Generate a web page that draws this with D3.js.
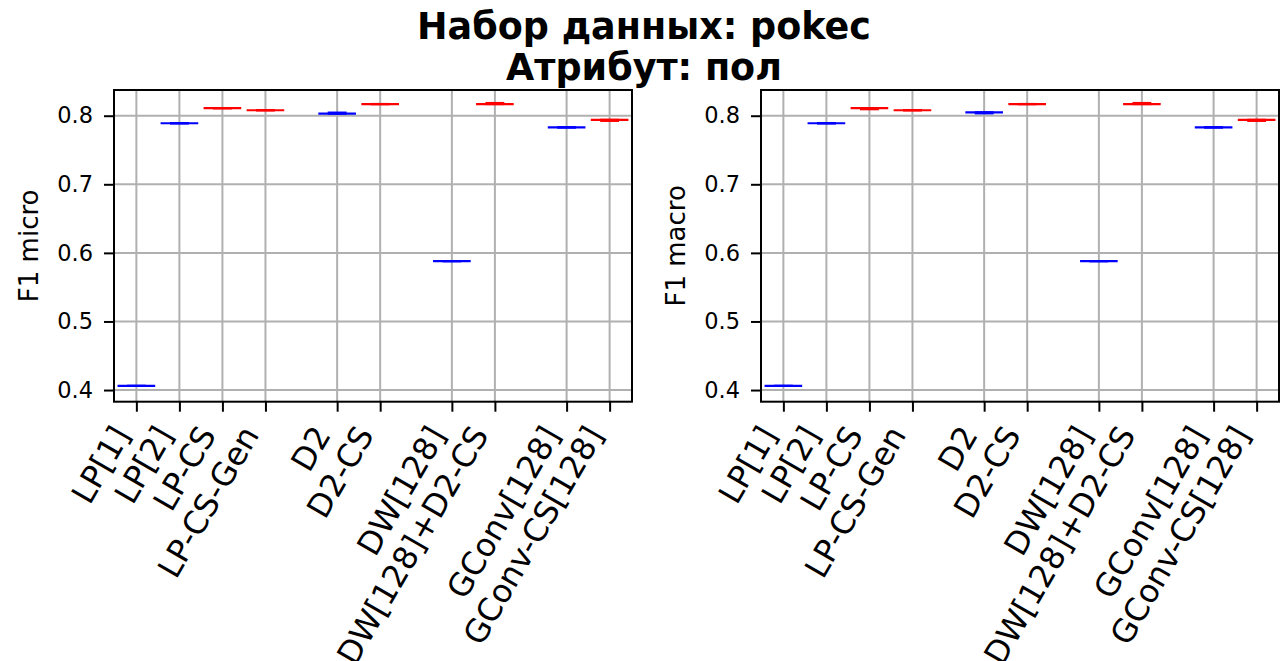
<!DOCTYPE html>
<html>
<head>
<meta charset="utf-8">
<script src="https://cdn.jsdelivr.net/npm/d3@7/dist/d3.min.js"></script>
<style>
  html, body { margin: 0; padding: 0; background: #fff; }
  svg { display: block; font-family: "DejaVu Sans", sans-serif; }
</style>
</head>
<body>
<svg id="fig" width="1288" height="661"></svg>
<script>
// Methods, in plotting order; group index controls the wider gaps between families
const categories = ["LP[1]", "LP[2]", "LP-CS", "LP-CS-Gen", "D2", "D2-CS",
                    "DW[128]", "DW[128]+D2-CS", "GConv[128]", "GConv-CS[128]"];
const groups = [0, 0, 0, 0, 1, 1, 2, 2, 3, 3];

// F1 micro: medians and whisker extents over runs
const microMedian = [0.406, 0.789, 0.811, 0.808, 0.803, 0.817, 0.588, 0.817, 0.783, 0.794];
const microLow    = [0.406, 0.789, 0.811, 0.808, 0.803, 0.817, 0.588, 0.817, 0.783, 0.7925];
const microHigh   = [0.406, 0.789, 0.811, 0.808, 0.8045, 0.817, 0.588, 0.8185, 0.783, 0.794];

// F1 macro: medians and whisker extents over runs
const macroMedian = [0.406, 0.789, 0.811, 0.808, 0.805, 0.817, 0.588, 0.817, 0.783, 0.794];
const macroLow    = [0.406, 0.789, 0.8095, 0.808, 0.8035, 0.817, 0.588, 0.817, 0.783, 0.7925];
const macroHigh   = [0.406, 0.789, 0.811, 0.808, 0.805, 0.817, 0.588, 0.8185, 0.783, 0.794];

const yTicks = [0.4, 0.5, 0.6, 0.7, 0.8];
const titleLines = ["Набор данных: pokec", "Атрибут: пол"];

const svg = d3.select("#fig");

// x positions: unit step within a family, extra 2/3 step between families
const groupGap = 2 / 3;
const positions = categories.map((c, i) => i + groups[i] * groupGap);

const panels = [
  { left: 114, label: "F1 micro", med: microMedian, lo: microLow, hi: microHigh },
  { left: 761, label: "F1 macro", med: macroMedian, lo: macroLow, hi: macroHigh }
];
const plotW = 518, plotTop = 90, plotBottom = 401.7;
const boxWidth = 0.875;   // in position units
const gridColor = "#b0b0b0";
const xTickFont = 32;

svg.append("g").selectAll("text").data(titleLines).join("text")
  .attr("x", 644).attr("y", (d, i) => 39 + i * 41)
  .attr("text-anchor", "middle")
  .attr("font-size", 36.5).attr("font-weight", "bold")
  .text(d => d);

panels.forEach(p => {
  const x = d3.scaleLinear().domain([-0.52, d3.max(positions) + 0.52]).range([p.left, p.left + plotW]);
  const y = d3.scaleLinear().domain([0.383, 0.8375]).range([plotBottom, plotTop]);
  const g = svg.append("g");

  // grid
  g.append("g").selectAll("line").data(yTicks).join("line")
    .attr("x1", p.left).attr("x2", p.left + plotW)
    .attr("y1", d => y(d)).attr("y2", d => y(d))
    .attr("stroke", gridColor).attr("stroke-width", 2);
  g.append("g").selectAll("line").data(positions).join("line")
    .attr("x1", d => x(d)).attr("x2", d => x(d))
    .attr("y1", plotTop).attr("y2", plotBottom)
    .attr("stroke", gridColor).attr("stroke-width", 2);

  // boxes
  const color = c => c.includes("CS") ? "#ff0000" : "#0000ff";
  const unit = x(1) - x(0);
  categories.forEach((c, i) => {
    const cx = x(positions[i]);
    const col = color(c);
    const hw = boxWidth * unit / 2;
    const bg = g.append("g").attr("stroke", col).attr("stroke-width", 2.2).attr("fill", "none");
    // whiskers and caps
    bg.append("line").attr("x1", cx).attr("x2", cx)
      .attr("y1", y(p.lo[i])).attr("y2", y(p.hi[i]));
    [p.lo[i], p.hi[i]].forEach(v => {
      bg.append("line").attr("x1", cx - hw / 2).attr("x2", cx + hw / 2)
        .attr("y1", y(v)).attr("y2", y(v));
    });
    // box (flat) and median
    bg.append("line").attr("x1", cx - hw).attr("x2", cx + hw)
      .attr("y1", y(p.med[i])).attr("y2", y(p.med[i]));
  });

  // y axis
  const yAxis = d3.axisLeft(y).tickValues(yTicks).tickFormat(d3.format(".1f"))
    .tickSize(10).tickPadding(11);
  const ya = g.append("g").attr("transform", `translate(${p.left},0)`).call(yAxis);
  ya.select(".domain").remove();
  ya.selectAll(".tick line").attr("stroke", "#000").attr("stroke-width", 2);
  ya.selectAll(".tick text").attr("font-size", 22.5).attr("fill", "#000")
    .attr("font-family", "DejaVu Sans");

  // x axis, labels rotated 60 degrees and right-aligned at the tick
  const xAxis = d3.axisBottom(x).tickValues(positions)
    .tickFormat((d, i) => categories[i]).tickSize(10);
  const xa = g.append("g").attr("transform", `translate(0,${plotBottom})`).call(xAxis);
  xa.select(".domain").remove();
  xa.selectAll(".tick line").attr("stroke", "#000").attr("stroke-width", 2);
  xa.selectAll(".tick text")
    .attr("font-size", xTickFont).attr("fill", "#000").attr("font-family", "DejaVu Sans")
    .attr("text-anchor", "end").attr("dy", null).attr("y", null)
    .attr("transform", "translate(-6,33) rotate(-60)");

  // frame
  g.append("rect").attr("x", p.left).attr("y", plotTop)
    .attr("width", plotW).attr("height", plotBottom - plotTop)
    .attr("fill", "none").attr("stroke", "#000").attr("stroke-width", 2);

  // y label
  g.append("text")
    .attr("transform", `translate(${p.left - 76},${(plotTop + plotBottom) / 2}) rotate(-90)`)
    .attr("text-anchor", "middle").attr("font-size", 26)
    .text(p.label);
});
</script>
</body>
</html>
